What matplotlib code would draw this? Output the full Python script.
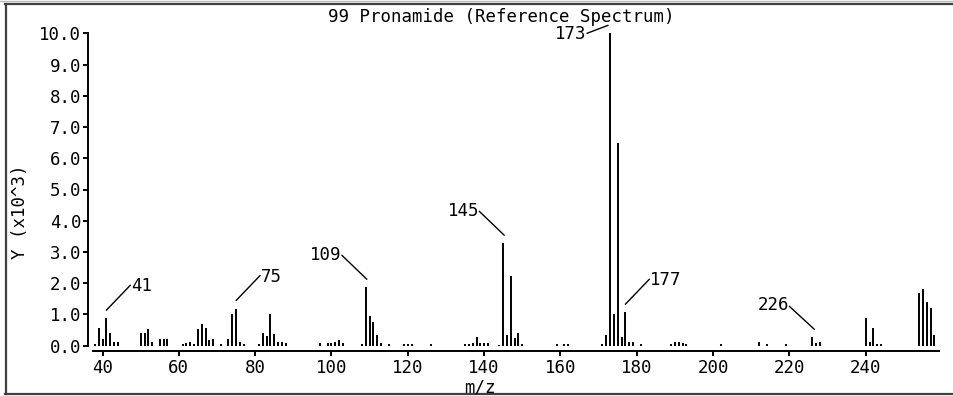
import matplotlib
matplotlib.use("Agg")
import matplotlib.pyplot as plt
from matplotlib.transforms import offset_copy
from matplotlib.lines import Line2D

# ---- data (m/z, intensity in units of 10^3) ----
mz = [38, 39, 40, 41, 42, 43, 44,
      50, 51, 52, 53, 55, 56, 57,
      61, 62, 63, 64, 65, 66, 67, 68, 69, 71,
      73, 74, 75, 76, 77,
      81, 82, 83, 84, 85, 86, 87, 88,
      97, 99, 100, 101, 102, 103,
      108, 109, 110, 111, 112, 113, 115,
      119, 120, 121, 126,
      135, 136, 137, 138, 139, 140, 141,
      144, 145, 146, 147, 148, 149, 150,
      159, 161, 162,
      171, 172, 173, 174, 175, 176, 177, 178, 179, 181,
      189, 190, 191, 192, 193,
      202, 212, 214, 219,
      226, 227, 228,
      240, 241, 242, 243, 244,
      254, 255, 256, 257, 258]
intensity = [0.07, 0.58, 0.20, 0.88, 0.40, 0.13, 0.13,
             0.40, 0.40, 0.52, 0.13, 0.20, 0.20, 0.20,
             0.07, 0.09, 0.13, 0.07, 0.52, 0.70, 0.58, 0.18, 0.20, 0.07,
             0.20, 1.00, 1.19, 0.13, 0.07,
             0.07, 0.40, 0.30, 1.00, 0.38, 0.13, 0.13, 0.10,
             0.10, 0.10, 0.08, 0.13, 0.18, 0.10,
             0.07, 1.87, 0.95, 0.77, 0.34, 0.10, 0.07,
             0.07, 0.07, 0.07, 0.07,
             0.07, 0.07, 0.10, 0.27, 0.10, 0.10, 0.10,
             0.03, 3.28, 0.33, 2.24, 0.24, 0.40, 0.07,
             0.07, 0.07, 0.07,
             0.07, 0.33, 10.0, 1.01, 6.49, 0.29, 1.07, 0.13, 0.13, 0.07,
             0.07, 0.13, 0.13, 0.10, 0.07,
             0.07, 0.13, 0.07, 0.07,
             0.27, 0.10, 0.13,
             0.88, 0.13, 0.58, 0.07, 0.07,
             1.70, 1.81, 1.39, 1.20, 0.34]

labeled_peaks = [41, 75, 109, 145, 173, 177, 226]
x_ticks = [40, 60, 80, 100, 120, 140, 160, 180, 200, 220, 240]
y_ticks = [0, 1, 2, 3, 4, 5, 6, 7, 8, 9, 10]

title = "99 Pronamide (Reference Spectrum)"
xlabel = "m/z"
ylabel = "Y (x10^3)"

# ---- style ----
FONT = "DejaVu Sans Mono"
FS = 12.5
plt.rcParams['font.family'] = FONT

W, H = 954, 396
fig = plt.figure(figsize=(W / 100, H / 100), dpi=100)
ax = fig.add_axes([93 / W, 1 - 345.7 / H, (939 - 93) / W, (345.7 - 33.3) / H])

ax.vlines(mz, 0, intensity, color="black", lw=1.4)

ax.set_xlim(37.5, 259.2)
ax.set_ylim(0, 10)
ax.set_xticks(x_ticks)
ax.set_yticks(y_ticks)
ax.set_yticklabels([f"{v:.1f}" for v in y_ticks])
for s in ("top", "right"):
    ax.spines[s].set_visible(False)
ax.spines["left"].set_position(("outward", 3.3))
ax.spines["bottom"].set_position(("outward", 3.8))
for s in ("left", "bottom"):
    ax.spines[s].set_linewidth(1.4)
ax.tick_params(axis="both", direction="out", length=3.6, width=1.4,
               labelsize=FS, colors="black")
ax.tick_params(axis="y", pad=1.5)
ax.tick_params(axis="x", pad=2.5)

# ---- annotations: (line start offset, line end offset, text offset, ha) in pixels ----
ann_style = {
    41: ((0, 8), (24, 33), (25, 32), "left"),
    75: ((0, 8), (24, 33), (25, 32), "left"),
    177: ((0, 8), (24, 33), (25, 32), "left"),
    109: ((1, 8), (-24, 32), (-24, 32), "right"),
    145: ((1, 8), (-24, 32), (-24, 32), "right"),
    226: ((2, 8), (-23, 31), (-23, 32), "right"),
    173: ((-2, 8), (-23, 0), (-24, -1), "right"),
}
for p in labeled_peaks:
    val = intensity[mz.index(p)]
    (sx, sy), (ex, ey), (tx, ty), ha = ann_style[p]
    tr = offset_copy(ax.transData, fig=fig, x=sx, y=sy, units="dots")
    ax.annotate("", xy=(p, val), xycoords=tr, xytext=(ex - sx, ey - sy),
                textcoords="offset pixels",
                arrowprops=dict(arrowstyle="-", lw=1.0, color="black",
                                shrinkA=0, shrinkB=0),
                annotation_clip=False)
    ax.annotate(str(p), xy=(p, val), xytext=(tx, ty), textcoords="offset pixels",
                ha=ha, va="center", fontsize=FS, annotation_clip=False)

# ---- titles / labels ----
fig.text(501 / W, 1 - 17 / H, title, ha="center", va="center", fontsize=FS)
fig.text(480 / W, 1 - 387 / H, xlabel, ha="center", va="center", fontsize=FS)
fig.text(20 / W, 1 - 212 / H, ylabel, ha="center", va="center", rotation=90, fontsize=FS)

# ---- outer frame ----
def fline(x0, y0, x1, y1, c, lw):
    fig.add_artist(Line2D([x0 / W, x1 / W], [1 - y0 / H, 1 - y1 / H],
                          transform=fig.transFigure, color=c, lw=lw))

fline(0, 1, W, 1, "#b8b8b8", 1.0)
fline(5, 4, W, 4, "#404040", 1.6)
fline(6, 4, 6, 394, "#404040", 1.6)
fline(5, 394, W, 394, "#404040", 1.6)

fig.savefig("out.png", dpi=100)
